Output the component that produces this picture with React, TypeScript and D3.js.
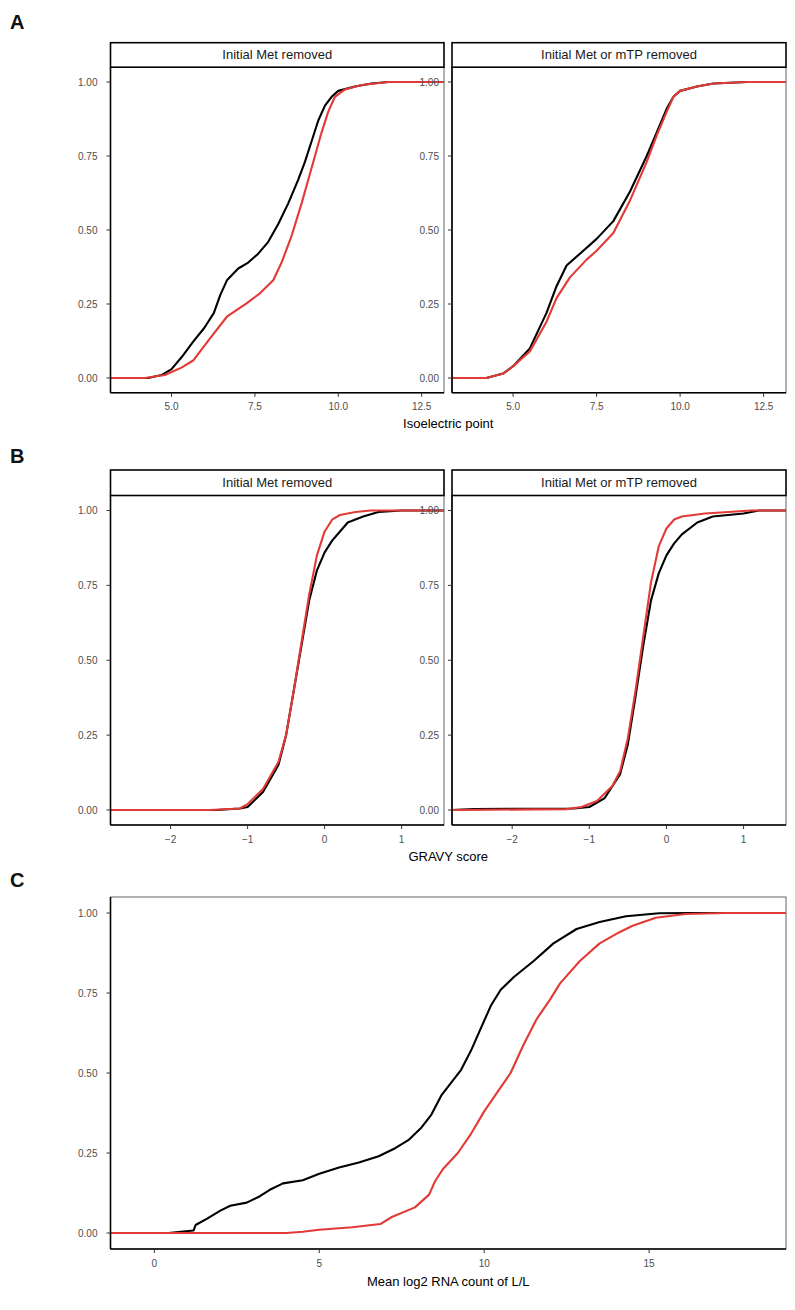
import React from "react";
import * as d3 from "d3";

// ---------- data ----------
// Panel A: isoelectric point ECDFs
const aLeftBlackX = [3.17, 4.3, 4.7, 5.0, 5.3, 5.65, 5.98, 6.27, 6.46, 6.66, 7.0, 7.3, 7.6, 7.9, 8.2, 8.5, 8.8, 9.0, 9.2, 9.4, 9.6, 9.8, 10.0, 10.5, 11.0, 11.5, 13.17];
const aLeftBlackY = [0, 0, 0.01, 0.03, 0.07, 0.123, 0.169, 0.22, 0.28, 0.33, 0.37, 0.39, 0.42, 0.46, 0.52, 0.59, 0.67, 0.73, 0.8, 0.87, 0.92, 0.95, 0.97, 0.985, 0.995, 1, 1];
const aLeftRedX = [3.17, 4.2, 4.8, 5.0, 5.3, 5.66, 6.16, 6.66, 7.26, 7.66, 8.05, 8.3, 8.6, 8.9, 9.1, 9.3, 9.5, 9.7, 9.9, 10.2, 10.7, 11.5, 13.17];
const aLeftRedY = [0, 0, 0.01, 0.02, 0.035, 0.06, 0.135, 0.207, 0.253, 0.287, 0.33, 0.39, 0.48, 0.59, 0.67, 0.75, 0.83, 0.9, 0.95, 0.975, 0.99, 1, 1];
const aRightBlackX = [3.17, 4.2, 4.7, 5.0, 5.5, 6.0, 6.3, 6.6, 7.0, 7.5, 8.0, 8.5, 9.0, 9.3, 9.6, 9.8, 10.0, 10.5, 11.0, 12.0, 13.17];
const aRightBlackY = [0, 0, 0.015, 0.04, 0.1, 0.22, 0.31, 0.38, 0.42, 0.47, 0.53, 0.63, 0.75, 0.83, 0.91, 0.95, 0.97, 0.985, 0.995, 1, 1];
const aRightRedX = [3.17, 4.2, 4.7, 5.0, 5.5, 6.0, 6.3, 6.7, 7.2, 7.5, 8.0, 8.5, 9.0, 9.3, 9.6, 9.8, 10.0, 10.5, 11.0, 12.0, 13.17];
const aRightRedY = [0, 0, 0.015, 0.04, 0.09, 0.19, 0.27, 0.34, 0.4, 0.43, 0.49, 0.6, 0.73, 0.82, 0.9, 0.95, 0.97, 0.985, 0.995, 1, 1];

// Panel B: GRAVY score ECDFs
const bLeftBlackX = [-2.78, -1.4, -1.1, -1.0, -0.8, -0.6, -0.5, -0.4, -0.3, -0.2, -0.1, 0.0, 0.1, 0.2, 0.3, 0.5, 0.7, 1.0, 1.55];
const bLeftBlackY = [0, 0, 0.005, 0.01, 0.06, 0.15, 0.25, 0.4, 0.55, 0.7, 0.8, 0.86, 0.9, 0.93, 0.96, 0.98, 0.995, 1, 1];
const bLeftRedX = [-2.78, -1.5, -1.1, -1.0, -0.8, -0.6, -0.5, -0.4, -0.3, -0.2, -0.1, 0.0, 0.1, 0.2, 0.4, 0.6, 1.55];
const bLeftRedY = [0, 0, 0.005, 0.02, 0.07, 0.16, 0.25, 0.4, 0.56, 0.72, 0.85, 0.93, 0.97, 0.985, 0.995, 1, 1];
const bRightBlackX = [-2.78, -2.5, -1.2, -1.0, -0.8, -0.6, -0.5, -0.4, -0.3, -0.2, -0.1, 0.0, 0.1, 0.2, 0.4, 0.6, 1.0, 1.2, 1.55];
const bRightBlackY = [0, 0.003, 0.005, 0.01, 0.04, 0.12, 0.22, 0.38, 0.55, 0.7, 0.79, 0.85, 0.89, 0.92, 0.96, 0.98, 0.99, 1, 1];
const bRightRedX = [-2.78, -1.3, -1.1, -0.9, -0.7, -0.6, -0.5, -0.4, -0.3, -0.2, -0.1, 0.0, 0.1, 0.2, 0.5, 0.8, 1.1, 1.55];
const bRightRedY = [0, 0.003, 0.01, 0.03, 0.08, 0.13, 0.24, 0.4, 0.58, 0.76, 0.88, 0.94, 0.97, 0.98, 0.99, 0.995, 1, 1];

// Panel C: mean log2 RNA count ECDFs
const cBlackX = [-1.33, 0.43, 0.8, 1.19, 1.25, 1.6, 2.0, 2.3, 2.8, 3.2, 3.5, 3.9, 4.5, 5.0, 5.6, 6.2, 6.8, 7.3, 7.7, 8.1, 8.4, 8.7, 9.0, 9.3, 9.6, 9.9, 10.2, 10.5, 10.9, 11.5, 12.1, 12.8, 13.5, 14.3, 15.3, 16.3, 19.15];
const cBlackY = [0, 0, 0.004, 0.008, 0.025, 0.045, 0.07, 0.085, 0.095, 0.115, 0.135, 0.155, 0.165, 0.185, 0.205, 0.22, 0.24, 0.265, 0.29, 0.33, 0.37, 0.43, 0.47, 0.51, 0.57, 0.64, 0.71, 0.76, 0.8, 0.85, 0.905, 0.95, 0.972, 0.99, 0.999, 1, 1];
const cRedX = [-1.33, 4.0, 4.5, 5.0, 6.0, 6.85, 7.2, 7.9, 8.33, 8.5, 8.75, 9.2, 9.6, 10.0, 10.4, 10.8, 11.2, 11.6, 12.0, 12.3, 12.9, 13.5, 14.1, 14.5, 15.2, 16.1, 17.3, 19.15];
const cRedY = [0, 0, 0.004, 0.01, 0.018, 0.028, 0.05, 0.08, 0.12, 0.16, 0.2, 0.25, 0.31, 0.38, 0.44, 0.5, 0.59, 0.67, 0.73, 0.78, 0.85, 0.905, 0.94, 0.96, 0.985, 0.997, 1, 1];

// ticks
const yTicks = [0, 0.25, 0.5, 0.75, 1];
const aTicks = [5, 7.5, 10, 12.5];
const bTicks = [-2, -1, 0, 1];
const cTicks = [0, 5, 10, 15];
const stripLabels = ["Initial Met removed", "Initial Met or mTP removed"];
const axisTitles = ["Isoelectric point", "GRAVY score", "Mean log2 RNA count of L/L"];
const panelLetters = ["A", "B", "C"];

const BLACK = "#000000";
const RED = "#e23a36";
const FONT = "'Liberation Sans', Arial, Helvetica, sans-serif";

type Curve = { xs: number[]; ys: number[]; color: string };

function zip(xs: number[], ys: number[]): [number, number][] {
  return xs.map((x, i) => [x, ys[i]] as [number, number]);
}

function Panel(props: {
  left: number;
  right: number;
  top: number;
  bottom: number;
  xDomain: [number, number];
  xTicks: number[];
  fmt: (v: number) => string;
  strip?: string;
  stripTop?: number;
  curves: Curve[];
}) {
  const { left, right, top, bottom, xDomain, xTicks, fmt, strip, stripTop, curves } = props;
  const x = d3.scaleLinear().domain(xDomain).range([left, right]);
  const y = d3.scaleLinear().domain([-0.05, 1.05]).range([bottom, top]);
  const line = d3
    .line<[number, number]>()
    .x((d) => x(d[0]))
    .y((d) => y(d[1]));
  return (
    <g>
      <rect x={left} y={top} width={right - left} height={bottom - top} fill="none" stroke="#555" strokeWidth={0.9} />
      {curves.map((c, i) => (
        <path key={i} d={line(zip(c.xs, c.ys)) || ""} fill="none" stroke={c.color} strokeWidth={2.1} strokeLinejoin="round" />
      ))}
      <line x1={left} x2={left} y1={top} y2={bottom} stroke="#000" strokeWidth={1.6} />
      <line x1={left} x2={right} y1={bottom} y2={bottom} stroke="#000" strokeWidth={1.6} />
      {yTicks.map((t) => (
        <g key={"y" + t}>
          <line x1={left - 4} x2={left} y1={y(t)} y2={y(t)} stroke="#333" strokeWidth={1} />
          <text x={left - 13} y={y(t) + 3.5} textAnchor="end" fontSize={10} fontFamily={FONT} fill="#4d4d4d">
            {t.toFixed(2)}
          </text>
        </g>
      ))}
      {xTicks.map((t) => (
        <g key={"x" + t}>
          <line x1={x(t)} x2={x(t)} y1={bottom} y2={bottom + 4} stroke="#333" strokeWidth={1} />
          <text x={x(t)} y={bottom + 17.5} textAnchor="middle" fontSize={10} fontFamily={FONT} fill="#4d4d4d">
            {fmt(t)}
          </text>
        </g>
      ))}
      {strip && stripTop !== undefined && (
        <g>
          <rect x={left} y={stripTop} width={right - left} height={top - stripTop} fill="#ffffff" stroke="#000" strokeWidth={1.6} />
          <text x={(left + right) / 2} y={(stripTop + top) / 2 + 4.5} textAnchor="middle" fontSize={13} fontFamily={FONT} fill="#1a1a1a">
            {strip}
          </text>
        </g>
      )}
    </g>
  );
}

export default function App() {
  const fmtA = (v: number) => v.toFixed(1);
  const fmtB = (v: number) => (v < 0 ? "\u2212" + Math.abs(v) : String(v));
  const fmtC = (v: number) => String(v);
  const L1 = 110.5, R1 = 444, L2 = 452, R2 = 786;
  const aDom: [number, number] = [3.17, 13.17];
  const bDom: [number, number] = [-2.78, 1.55];
  const cDom: [number, number] = [-1.33, 19.15];
  return (
    <svg width={795} height={1310} style={{ position: "absolute", left: 0, top: 0, background: "#fff" }}>
      <rect x={0} y={0} width={795} height={1310} fill="#fff" />
      {/* Panel letters */}
      <text x={10} y={29} fontSize={20} fontWeight="bold" fontFamily={FONT} fill="#111">{panelLetters[0]}</text>
      <text x={10} y={463} fontSize={20} fontWeight="bold" fontFamily={FONT} fill="#111">{panelLetters[1]}</text>
      <text x={10} y={887} fontSize={20} fontWeight="bold" fontFamily={FONT} fill="#111">{panelLetters[2]}</text>

      {/* A */}
      <Panel left={L1} right={R1} top={67.2} bottom={392.8} xDomain={aDom} xTicks={aTicks} fmt={fmtA} strip={stripLabels[0]} stripTop={42.7}
        curves={[{ xs: aLeftBlackX, ys: aLeftBlackY, color: BLACK }, { xs: aLeftRedX, ys: aLeftRedY, color: RED }]} />
      <Panel left={L2} right={R2} top={67.2} bottom={392.8} xDomain={aDom} xTicks={aTicks} fmt={fmtA} strip={stripLabels[1]} stripTop={42.7}
        curves={[{ xs: aRightBlackX, ys: aRightBlackY, color: BLACK }, { xs: aRightRedX, ys: aRightRedY, color: RED }]} />
      <text x={(L1 + R2) / 2} y={428} textAnchor="middle" fontSize={13} fontFamily={FONT} fill="#000">{axisTitles[0]}</text>

      {/* B */}
      <Panel left={L1} right={R1} top={495.5} bottom={825} xDomain={bDom} xTicks={bTicks} fmt={fmtB} strip={stripLabels[0]} stripTop={470}
        curves={[{ xs: bLeftBlackX, ys: bLeftBlackY, color: BLACK }, { xs: bLeftRedX, ys: bLeftRedY, color: RED }]} />
      <Panel left={L2} right={R2} top={495.5} bottom={825} xDomain={bDom} xTicks={bTicks} fmt={fmtB} strip={stripLabels[1]} stripTop={470}
        curves={[{ xs: bRightBlackX, ys: bRightBlackY, color: BLACK }, { xs: bRightRedX, ys: bRightRedY, color: RED }]} />
      <text x={(L1 + R2) / 2} y={861} textAnchor="middle" fontSize={13} fontFamily={FONT} fill="#000">{axisTitles[1]}</text>

      {/* C */}
      <Panel left={L1} right={R2} top={897} bottom={1249} xDomain={cDom} xTicks={cTicks} fmt={fmtC}
        curves={[{ xs: cBlackX, ys: cBlackY, color: BLACK }, { xs: cRedX, ys: cRedY, color: RED }]} />
      <text x={(L1 + R2) / 2} y={1286} textAnchor="middle" fontSize={13} fontFamily={FONT} fill="#000">{axisTitles[2]}</text>
    </svg>
  );
}
